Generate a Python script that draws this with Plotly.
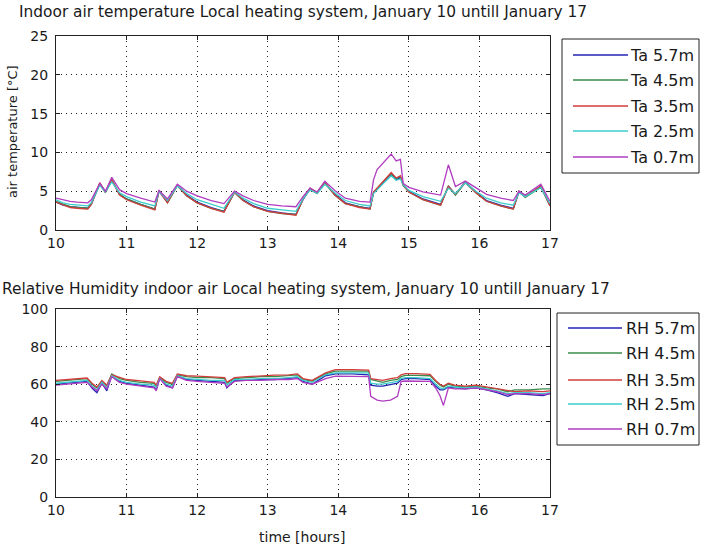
import plotly.graph_objects as go

W, H = 701, 549

# ---------------- data ----------------
T_TIME = [10.0, 10.1, 10.2, 10.3, 10.45, 10.5, 10.62, 10.7, 10.79, 10.9, 11.0, 11.2, 11.4, 11.46, 11.58,
          11.72, 11.85, 12.0, 12.2, 12.38, 12.53, 12.65, 12.8, 13.0, 13.2, 13.4, 13.5, 13.6, 13.7, 13.81,
          13.95, 14.1, 14.3, 14.45, 14.5, 14.55, 14.65, 14.75, 14.82, 14.88, 14.92, 15.0, 15.2, 15.45,
          15.56, 15.66, 15.8, 15.95, 16.1, 16.3, 16.48, 16.56, 16.65, 16.87, 17.0]
TA_57 = [3.6, 3.2, 3.0, 2.9, 2.8, 3.3, 6.0, 4.9, 6.4, 4.6, 4.0, 3.3, 2.7, 5.0, 3.6, 5.8, 4.5, 3.6, 2.9, 2.4,
         4.9, 3.9, 3.1, 2.5, 2.2, 2.0, 3.9, 5.3, 4.8, 6.1, 4.6, 3.5, 3.0, 2.8, 4.8, 5.3, 6.3, 7.2, 6.5, 6.8,
         5.8, 5.0, 4.0, 3.3, 5.6, 4.6, 6.2, 4.9, 3.8, 3.2, 2.8, 4.9, 4.3, 5.6, 3.2]
TA_45 = [3.7, 3.3, 3.0, 2.9, 2.8, 3.4, 5.9, 4.8, 6.5, 4.6, 4.0, 3.3, 2.7, 5.1, 3.5, 5.7, 4.4, 3.5, 2.8, 2.4,
         4.8, 3.8, 3.0, 2.4, 2.1, 2.0, 4.0, 5.2, 4.7, 6.0, 4.5, 3.4, 3.0, 2.7, 4.9, 5.4, 6.4, 7.3, 6.6, 6.9,
         5.7, 4.9, 3.9, 3.2, 5.7, 4.5, 6.1, 4.8, 3.7, 3.1, 2.7, 5.0, 4.2, 5.5, 3.1]
TA_35 = [3.6, 3.2, 2.9, 2.8, 2.7, 3.3, 6.1, 4.9, 6.5, 4.5, 3.9, 3.2, 2.6, 5.0, 3.5, 5.8, 4.4, 3.5, 2.8, 2.3,
         4.9, 3.8, 3.0, 2.4, 2.1, 1.9, 4.0, 5.4, 4.8, 6.2, 4.5, 3.4, 2.9, 2.7, 4.9, 5.4, 6.5, 7.4, 6.7, 7.0,
         5.8, 4.9, 3.9, 3.2, 5.6, 4.6, 6.2, 4.8, 3.7, 3.1, 2.7, 5.0, 4.3, 5.7, 3.1]
TA_25 = [3.9, 3.5, 3.3, 3.2, 3.1, 3.5, 5.8, 4.9, 6.2, 4.8, 4.3, 3.6, 3.1, 5.0, 3.8, 5.7, 4.7, 3.9, 3.3, 2.8,
         4.9, 4.1, 3.4, 2.8, 2.6, 2.4, 4.0, 5.2, 4.7, 5.9, 4.8, 3.8, 3.3, 3.1, 4.7, 5.2, 6.1, 7.0, 6.4, 6.6,
         5.8, 5.1, 4.3, 3.7, 5.4, 4.7, 6.1, 5.0, 4.1, 3.5, 3.2, 4.8, 4.3, 5.5, 3.4]
TA_07 = [4.1, 3.9, 3.7, 3.6, 3.5, 3.9, 6.0, 5.0, 6.8, 5.2, 4.7, 4.1, 3.6, 5.1, 4.0, 5.9, 5.0, 4.4, 3.8, 3.4,
         5.0, 4.4, 3.8, 3.3, 3.1, 3.0, 4.3, 5.4, 4.9, 6.3, 5.1, 4.1, 3.7, 3.6, 6.5, 7.8, 8.8, 9.8, 8.9, 9.1,
         6.0, 5.5, 4.9, 4.5, 8.4, 5.6, 6.3, 5.4, 4.6, 4.1, 3.8, 5.0, 4.5, 5.9, 3.7]

RH_TIME = [10.0, 10.2, 10.44, 10.51, 10.58, 10.65, 10.72, 10.79, 10.9, 11.0, 11.2, 11.39, 11.42, 11.47, 11.56,
           11.65, 11.72, 11.85, 12.0, 12.2, 12.39, 12.42, 12.53, 12.7, 12.9, 13.1, 13.3, 13.42, 13.5, 13.63,
           13.82, 13.96, 14.2, 14.43, 14.46, 14.55, 14.63, 14.74, 14.84, 14.89, 14.95, 15.1, 15.3, 15.38,
           15.44, 15.49, 15.56, 15.65, 15.8, 15.95, 16.1, 16.25, 16.4, 16.5, 16.7, 16.9, 17.0]
RH_57 = [60.0, 60.5, 61.5, 58.0, 55.5, 60.5, 56.5, 64.5, 61.5, 60.5, 59.5, 58.5, 57.0, 63.5, 59.5, 58.0, 64.5,
         62.5, 62.0, 61.5, 61.0, 58.0, 62.0, 62.0, 62.5, 62.5, 63.0, 63.5, 61.5, 60.0, 64.5, 65.5, 65.5, 65.0,
         59.5, 59.0, 59.0, 60.0, 60.5, 62.5, 63.0, 63.0, 62.5, 59.0, 57.0, 57.0, 58.5, 58.0, 57.5, 58.0, 57.0,
         55.5, 53.5, 55.0, 54.5, 54.0, 55.0]
RH_45 = [61.5, 62.0, 63.0, 60.0, 58.0, 61.5, 59.0, 65.5, 63.0, 62.0, 61.0, 60.5, 59.0, 63.5, 61.0, 60.0, 65.0,
         64.0, 63.5, 63.5, 63.0, 60.5, 63.0, 63.5, 64.0, 64.0, 64.5, 65.0, 62.5, 61.5, 65.5, 67.0, 67.0, 67.0,
         62.5, 61.5, 61.0, 62.0, 62.5, 64.0, 64.7, 64.7, 64.5, 61.5, 59.5, 58.5, 60.0, 59.0, 58.5, 59.0, 58.0,
         57.5, 56.0, 57.0, 57.0, 57.5, 57.5]
RH_35 = [62.0, 62.5, 63.3, 60.5, 58.5, 62.0, 59.5, 65.0, 63.5, 62.5, 61.8, 61.0, 59.5, 64.0, 61.5, 60.5, 65.5,
         64.5, 64.3, 64.0, 63.5, 61.0, 63.5, 64.0, 64.5, 64.8, 65.0, 65.5, 63.0, 62.0, 66.0, 67.8, 67.8, 67.5,
         63.0, 62.5, 62.0, 63.0, 63.5, 65.0, 65.6, 65.6, 65.2, 62.0, 60.0, 59.0, 60.5, 59.5, 59.0, 59.5, 58.5,
         57.5, 56.5, 56.0, 56.5, 56.0, 56.5]
RH_25 = [60.5, 61.0, 62.0, 59.0, 57.0, 61.0, 58.0, 64.5, 62.0, 61.0, 60.0, 59.5, 58.0, 63.0, 60.0, 59.0, 64.5,
         63.0, 62.5, 62.0, 62.0, 59.5, 62.5, 62.5, 63.0, 63.0, 63.5, 64.0, 62.0, 61.0, 65.0, 66.0, 66.0, 66.0,
         60.5, 60.0, 60.0, 61.0, 61.5, 63.0, 63.5, 63.5, 63.0, 60.0, 58.0, 57.5, 59.0, 58.5, 58.0, 58.5, 57.5,
         56.5, 55.0, 55.5, 55.5, 55.0, 55.5]
RH_07 = [59.5, 60.0, 61.0, 58.5, 56.5, 60.0, 57.5, 64.0, 61.0, 60.0, 59.0, 58.0, 56.5, 63.0, 59.0, 58.0, 64.0,
         62.0, 61.5, 61.0, 60.5, 58.5, 61.5, 62.0, 62.0, 62.5, 62.5, 63.0, 61.0, 60.0, 63.0, 64.3, 64.3, 64.0,
         53.5, 51.5, 51.0, 51.5, 53.5, 61.5, 61.7, 61.7, 61.5, 58.0, 54.0, 48.7, 58.0, 57.5, 57.5, 58.0, 57.0,
         56.0, 54.5, 55.0, 55.0, 54.5, 55.0]

TA_NAMES = ["Ta 5.7m", "Ta 4.5m", "Ta 3.5m", "Ta 2.5m", "Ta 0.7m"]
RH_NAMES = ["RH 5.7m", "RH 4.5m", "RH 3.5m", "RH 2.5m", "RH 0.7m"]
TA_SERIES = [TA_57, TA_45, TA_35, TA_25, TA_07]
RH_SERIES = [RH_57, RH_45, RH_35, RH_25, RH_07]
X_TICKS = [10, 11, 12, 13, 14, 15, 16, 17]
TA_TICKS = [0, 5, 10, 15, 20, 25]
RH_TICKS = [0, 20, 40, 60, 80, 100]

TITLE_TOP = "Indoor air temperature Local heating system, January 10 untill January 17"
TITLE_BOT = "Relative Humidity indoor air Local heating system, January 10 untill January 17"
YLABEL_TOP = "air temperature [°C]"
XLABEL = "time [hours]"

COLORS = ["#2424b4", "#3a8c4c", "#d23c3c", "#3ccccc", "#b03cc0"]
FONT = "DejaVu Sans"
TXT = "#1a1a1a"


def px(x):
    return x / W


def py(y):
    return 1 - y / H


fig = go.Figure()
for name, vals, col in zip(TA_NAMES, TA_SERIES, COLORS):
    fig.add_trace(go.Scatter(x=T_TIME, y=vals, name=name, mode="lines",
                             line=dict(color=col, width=1.3), showlegend=False,
                             xaxis="x", yaxis="y"))
for name, vals, col in zip(RH_NAMES, RH_SERIES, COLORS):
    fig.add_trace(go.Scatter(x=RH_TIME, y=vals, name=name, mode="lines",
                             line=dict(color=col, width=1.3), showlegend=False,
                             xaxis="x2", yaxis="y2"))

axis_common = dict(showline=True, linecolor="#222", linewidth=1, mirror="ticks",
                   ticks="inside", ticklen=4, tickcolor="#222", automargin=False,
                   showgrid=True, gridcolor="#222", gridwidth=1, griddash="1px,4px",
                   zeroline=False, tickfont=dict(family=FONT, size=14, color=TXT))

xdom = [px(56), px(550)]
fig.update_layout(
    width=W, height=H, margin=dict(l=0, r=0, t=0, b=0, autoexpand=False),
    paper_bgcolor="white", plot_bgcolor="white", showlegend=False,
    xaxis=dict(domain=xdom, range=[10, 17], tickvals=X_TICKS, anchor="y", **axis_common),
    yaxis=dict(domain=[py(230), py(36)], range=[0, 25], tickvals=TA_TICKS, anchor="x",
               ticklabelstandoff=4, **axis_common),
    xaxis2=dict(domain=xdom, range=[10, 17], tickvals=X_TICKS, anchor="y2", **axis_common),
    yaxis2=dict(domain=[py(497), py(309)], range=[0, 100], tickvals=RH_TICKS, anchor="x2",
                ticklabelstandoff=4, **axis_common),
)

TITLE_FONT = dict(family=FONT, size=15.4, color=TXT)
annotations = [
    dict(text=TITLE_TOP, x=px(17), y=py(12), xanchor="left", yanchor="middle", font=TITLE_FONT),
    dict(text=TITLE_BOT, x=px(0), y=py(289), xanchor="left", yanchor="middle", font=TITLE_FONT),
    dict(text=XLABEL, x=px(302), y=py(537), xanchor="center", yanchor="middle"),
    dict(text=YLABEL_TOP, x=px(12), y=py(132), xanchor="center", yanchor="middle", textangle=-90,
         font=dict(family=FONT, size=13, color=TXT)),
]
shapes = []


def add_legend(names, box, line_x0, line_x1, text_x, row_y):
    x0, y0, x1, y1 = box
    shapes.append(dict(type="rect", xref="paper", yref="paper", x0=px(x0), x1=px(x1), y0=py(y1), y1=py(y0),
                       line=dict(color="#222", width=1), fillcolor="white", layer="above"))
    for i, (nm, col) in enumerate(zip(names, COLORS)):
        yy = row_y[i]
        shapes.append(dict(type="line", xref="paper", yref="paper", x0=px(line_x0), x1=px(line_x1),
                           y0=py(yy), y1=py(yy), line=dict(color=col, width=1.3), layer="above"))
        annotations.append(dict(text=nm, x=px(text_x), y=py(yy), xanchor="left", yanchor="middle",
                                font=dict(family=FONT, size=16, color=TXT)))


add_legend(TA_NAMES, (562, 39, 699, 173), 573, 628, 628, [55, 80, 106, 131, 157])
add_legend(RH_NAMES, (557, 313, 699, 445), 568, 622, 624, [328, 353, 380, 404, 429])

for a in annotations:
    a.setdefault("font", dict(family=FONT, size=14, color=TXT))
    a.update(xref="paper", yref="paper", showarrow=False)

fig.update_layout(annotations=annotations, shapes=shapes)
fig.write_html("out.html")
